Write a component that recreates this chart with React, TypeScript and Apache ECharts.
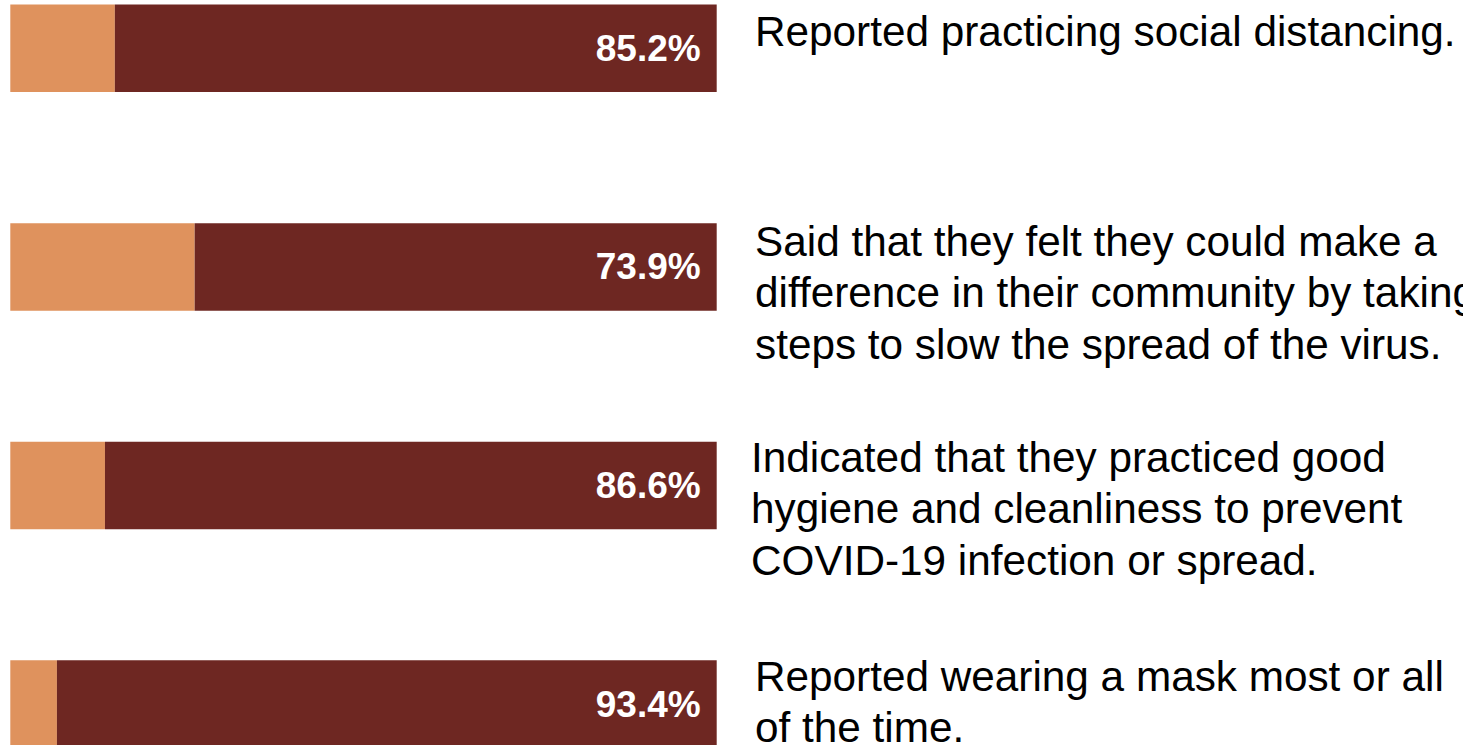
import React, { useEffect, useRef } from "react";
import * as echarts from "echarts";

const categories = ["social", "community", "hygiene", "mask"];
const redValues = [85.2, 73.9, 86.6, 93.4];
const orangeValues = [14.8, 26.1, 13.4, 6.6];
const statements = [
  "Reported practicing social distancing.",
  "Said that they felt they could make a\ndifference in their community by taking\nsteps to slow the spread of the virus.",
  "Indicated that they practiced good\nhygiene and cleanliness to prevent\nCOVID-19 infection or spread.",
  "Reported wearing a mask most or all\nof the time.",
];
const textOffsetsY = [-17, 26, 23, -2];
const textX = [755, 755, 751, 755];

const ORANGE = "#DF925D";
const RED = "#6E2722";
const FONT = "'Liberation Sans', Arial, sans-serif";

export default function App() {
  const ref = useRef<HTMLDivElement>(null);
  useEffect(() => {
    if (!ref.current) return;
    const chart = echarts.init(ref.current, undefined, { renderer: "svg" });
    const option: any = {
      animation: false,
      backgroundColor: "#ffffff",
      grid: { left: 10.3, width: 706.4, top: 0, height: 874.4, containLabel: false },
      xAxis: { type: "value", min: 0, max: 100, show: false },
      yAxis: { type: "category", data: categories, inverse: true, show: false },
      series: [
        {
          type: "bar",
          stack: "total",
          data: orangeValues,
          barWidth: 87.5,
          itemStyle: { color: ORANGE },
          silent: true,
        },
        {
          type: "bar",
          stack: "total",
          data: redValues,
          barWidth: 87.5,
          itemStyle: { color: RED },
          silent: true,
          label: {
            show: true,
            position: "insideRight",
            distance: 16,
            formatter: (p: any) => p.value.toFixed(1) + "%",
            color: "#ffffff",
            fontFamily: FONT,
            fontWeight: "bold",
            fontSize: 37,
          },
        },
      ],
    };
    chart.setOption(option);
    const graphics = categories.map((c, i) => {
      const y = chart.convertToPixel({ yAxisIndex: 0 }, c) as number;
      return {
        type: "text",
        x: textX[i],
        y: y + textOffsetsY[i],
        style: {
          text: statements[i],
          fill: "#000000",
          fontSize: 42.3,
          fontFamily: FONT,
          lineHeight: 51.5,
          align: "left",
          verticalAlign: "middle",
        },
      };
    });
    chart.setOption({ graphic: graphics });
    return () => chart.dispose();
  }, []);
  return (
    <div style={{ position: "fixed", left: 0, top: 0, width: 1463, height: 745, overflow: "hidden", background: "#ffffff" }}>
      <div
        ref={ref}
        style={{ position: "absolute", left: 0, top: -61.3, width: 1463, height: 875 }}
      />
    </div>
  );
}
